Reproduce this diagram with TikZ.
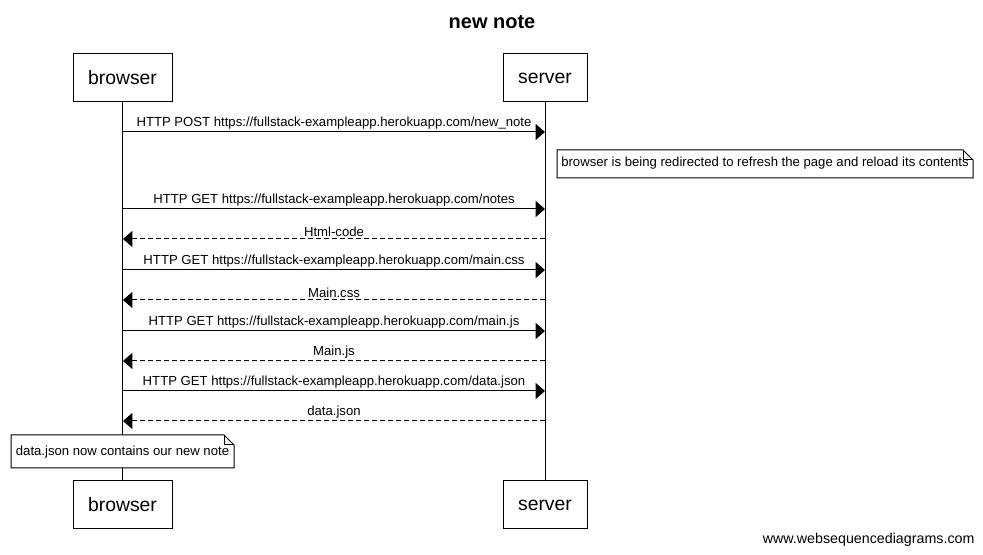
\documentclass[tikz,border=0pt]{standalone}
\usepackage{fontspec}
\setmainfont{Liberation Sans}
\usetikzlibrary{arrows.meta}
\begin{document}
\begin{tikzpicture}[x=0.75pt,y=-0.75pt,line width=0.75pt,
  actor/.style={draw,fill=white,minimum height=36pt,inner sep=0pt,font=\fontsize{14.5}{16}\selectfont},
  msg/.style={-{Triangle[length=7pt,width=12pt]}},
  reply/.style={msg,dash pattern=on 3.75pt off 2.25pt},
  lbl/.style={font=\fontsize{9.85}{11}\selectfont,inner sep=0pt,above=1.6pt},
  notetxt/.style={font=\fontsize{9.85}{11}\selectfont,inner sep=0pt},
  life/.style={line width=0.75pt}]
\useasboundingbox (0,0) rectangle (983,555);
% title
\node[font=\bfseries\fontsize{15}{17}\selectfont] (title) at (492,22) {new note};
% participants
\node[actor,minimum width=74.25pt] (bt) at (122.5,78) {browser};
\node[actor,minimum width=63pt] (st) at (545,78) {server};
\node[actor,minimum width=74.25pt] (bb) at (122.5,505) {browser};
\node[actor,minimum width=63pt] (sb) at (545,505) {server};
% lifelines
\draw[life] (bt.south) -- (bb.north);
\draw[life] (st.south) -- (sb.north);
% message coordinates
\foreach \i/\y in {1/132,2/209,3/239,4/270,5/300,6/331,7/361,8/391,9/421}{
  \coordinate (b\i) at (123,\y);
  \coordinate (s\i) at (545,\y);
}
\draw[msg] (b1) -- (s1) node[lbl,midway] (m1) {HTTP POST https://fullstack-exampleapp.herokuapp.com/new\_note};
\draw[msg] (b2) -- (s2) node[lbl,midway] (m2) {HTTP GET https://fullstack-exampleapp.herokuapp.com/notes};
\draw[reply] (s3) -- (b3) node[lbl,midway] (m3) {Html-code};
\draw[msg] (b4) -- (s4) node[lbl,midway] (m4) {HTTP GET https://fullstack-exampleapp.herokuapp.com/main.css};
\draw[reply] (s5) -- (b5) node[lbl,midway] (m5) {Main.css};
\draw[msg] (b6) -- (s6) node[lbl,midway] (m6) {HTTP GET https://fullstack-exampleapp.herokuapp.com/main.js};
\draw[reply] (s7) -- (b7) node[lbl,midway] (m7) {Main.js};
\draw[msg] (b8) -- (s8) node[lbl,midway] (m8) {HTTP GET https://fullstack-exampleapp.herokuapp.com/data.json};
\draw[reply] (s9) -- (b9) node[lbl,midway] (m9) {data.json};
% note 1
\draw[fill=white] (557,150) -- (963,150) -- (973,160) -- (973,178) -- (557,178) -- cycle;
\draw (963,150) -- (963,160) -- (973,160);
\node[notetxt] (n1) at (765,163) {browser is being redirected to refresh the page and reload its contents};
% note 2
\draw[fill=white] (11,435) -- (224,435) -- (234,445) -- (234,468) -- (11,468) -- cycle;
\draw (224,435) -- (224,445) -- (234,445);
\node[notetxt] (n2) at (122.5,452) {data.json now contains our new note};
% footer
\node[font=\fontsize{10.7}{12}\selectfont,anchor=east,inner sep=0pt] (foot) at (975,540) {www.websequencediagrams.com};
\end{tikzpicture}
\end{document}
